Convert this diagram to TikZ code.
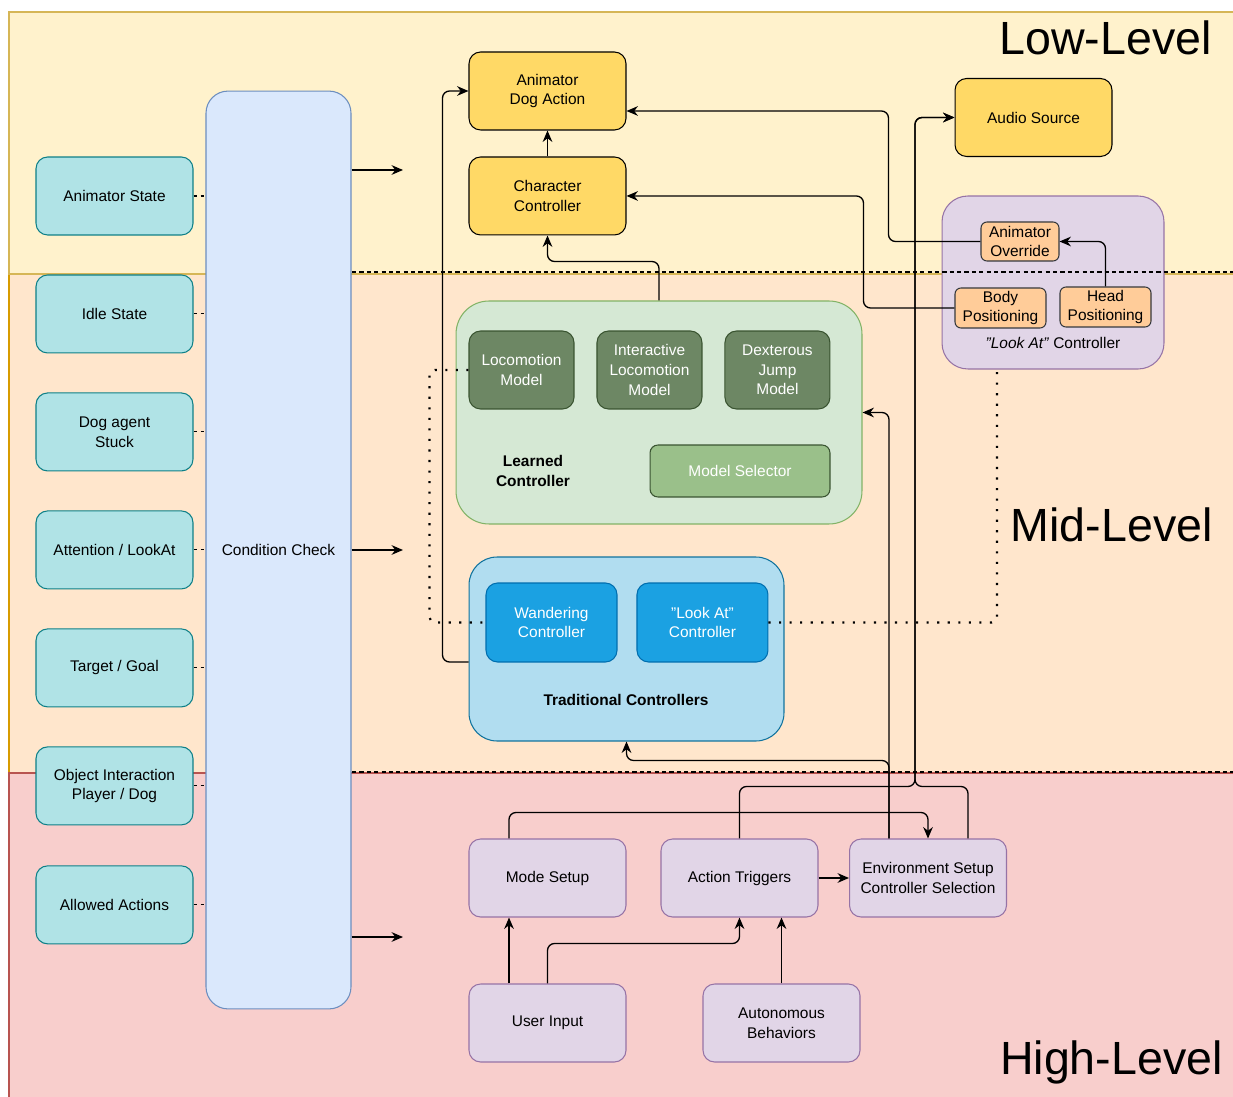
\documentclass[tikz,border=0pt]{standalone}
\usepackage{fontspec}
\setmainfont{Liberation Sans}
\usetikzlibrary{arrows.meta}
\definecolor{lowc}{HTML}{FFF2CC}
\definecolor{lowb}{HTML}{D6B656}
\definecolor{midc}{HTML}{FFE6CC}
\definecolor{midb}{HTML}{D79B00}
\definecolor{highc}{HTML}{F8CECC}
\definecolor{highb}{HTML}{B85450}
\definecolor{inc}{HTML}{B0E3E6}
\definecolor{inb}{HTML}{0E8088}
\definecolor{ccc}{HTML}{DAE8FC}
\definecolor{ccb}{HTML}{6C8EBF}
\definecolor{actc}{HTML}{FFD966}
\definecolor{lrc}{HTML}{D5E8D4}
\definecolor{lrb}{HTML}{82B366}
\definecolor{mdc}{HTML}{6D8764}
\definecolor{mdb}{HTML}{3A5431}
\definecolor{msc}{HTML}{9AC08A}
\definecolor{trc}{HTML}{B1DDF0}
\definecolor{trb}{HTML}{10739E}
\definecolor{wcc}{HTML}{1BA1E2}
\definecolor{wcb}{HTML}{006EAF}
\definecolor{pc}{HTML}{E1D5E7}
\definecolor{pb}{HTML}{9673A6}
\definecolor{orc}{HTML}{FFCC99}
\definecolor{orb}{HTML}{36393D}

\begin{document}
\begin{tikzpicture}[x=0.02cm, y=-0.02cm, node distance=2.36cm,
  font=\fontsize{8.8}{11.2}\selectfont, >={Stealth[length=6.5pt, width=5.5pt]},
  rbox/.style={rectangle, draw, line width=0.6pt, rounded corners=6.6pt, align=center, inner sep=1pt, minimum width=3.14cm, minimum height=1.56cm},
  inbox/.style={rbox, fill=inc, draw=inb},
  actbox/.style={rbox, fill=actc, draw=black},
  hlbox/.style={rbox, fill=pc, draw=pb},
  mdbox/.style={rbox, fill=mdc, draw=mdb, text=white, minimum width=2.1cm},
  wcbox/.style={rbox, fill=wcc, draw=wcb, text=white, minimum width=2.62cm, minimum height=1.58cm},
  orbox/.style={rbox, fill=orc, draw=orb, rounded corners=3.4pt, inner sep=0pt, minimum width=1.82cm, minimum height=0.8cm},
  group/.style={rectangle, draw, line width=0.6pt, inner sep=0pt},
  band/.style={line width=0.6pt},
  glabel/.style={align=center, font=\fontsize{8.8}{11.2}\selectfont\bfseries},
  lvtxt/.style={anchor=east, inner sep=0pt, font=\fontsize{26.5}{30}\selectfont},
  lvline/.style={line width=0.6pt, dash pattern=on 2.4pt off 1.8pt},
  cue/.style={line width=0.6pt, dash pattern=on 2pt off 2pt},
  link/.style={->, line width=0.75pt, rounded corners=4pt},
  dotlink/.style={line width=1.2pt, dash pattern=on 1.2pt off 4.8pt, rounded corners=3pt}]

  \useasboundingbox (0,0) rectangle (1233,1097);

  \path[band, fill=midc, draw=midb] (9,274) rectangle (1236,773);
  \path[band, fill=lowc, draw=lowb] (9,12) rectangle (1236,274);
  \path[band, fill=highc, draw=highb] (9,773) rectangle (1236,1104);

  \node[lvtxt] (lowl) at (1212,38) {Low-Level};
  \node[lvtxt] (midl) at (1213,525) {Mid-Level};
  \node[lvtxt] (highl) at (1223,1062) {High-Level};

  \node[rbox, fill=ccc, draw=ccb, rounded corners=12.5pt, minimum width=2.9cm, minimum height=18.36cm] (cond) at (278.5,550) {Condition Check};

  \node[inbox] (ast) at (114.5,196) {Animator State};
  \node[inbox, below of=ast] (idl) {Idle State};
  \node[inbox, below of=idl] (stk) {Dog agent\\Stuck};
  \node[inbox, below of=stk] (att) {Attention / LookAt};
  \node[inbox, below of=att] (tgt) {Target / Goal};
  \node[inbox, below of=tgt] (obj) {Object Interaction\\Player / Dog};
  \node[inbox, below of=obj, node distance=2.38cm] (alw) {Allowed Actions};

  \node[coordinate] (out1) at (403,170) {};
  \node[coordinate] (out2) at (403,550) {};
  \node[coordinate] (out3) at (403,937) {};

  \node[group, fill=lrc, draw=lrb, rounded corners=18.7pt, minimum width=8.12cm, minimum height=4.46cm] (lrn) at (659,412.5) {};
  \node[group, fill=trc, draw=trb, rounded corners=15.9pt, minimum width=6.3cm, minimum height=3.68cm] (trd) at (626.5,649) {};
  \node[group, fill=pc, draw=pb, rounded corners=14.7pt, minimum width=4.44cm, minimum height=3.46cm] (lag) at (1053,282.5) {};

  \draw[lvline] (352,272) -- (1236,272);
  \draw[lvline] (352,772) -- (1236,772);

  \node[actbox] (ada) at (547.5,91) {Animator\\Dog Action};
  \node[actbox, below of=ada, node distance=2.1cm] (chc) {Character\\Controller};
  \node[actbox] (aud) at (1033.5,117.5) {Audio Source};

  \node[mdbox] (lm) at (521.5,370) {Locomotion\\Model};
  \node[mdbox, right of=lm, node distance=2.56cm] (ilm) {Interactive\\Locomotion\\Model};
  \node[mdbox, right of=ilm, node distance=2.56cm] (djm) {Dexterous\\Jump\\Model};
  \node[rbox, fill=msc, draw=mdb, text=white, rounded corners=4.5pt, minimum width=3.6cm, minimum height=1.04cm] (msel) at (740,471) {Model Selector};
  \node[glabel] (lrnl) at (533,471) {Learned\\Controller};

  \node[wcbox] (wnd) at (551.5,622.5) {Wandering\\Controller};
  \node[wcbox, right of=wnd, node distance=3.02cm] (lac) {"Look At"\\Controller};
  \node[glabel] (trdl) at (626,700) {Traditional Controllers};

  \node[orbox, minimum width=1.56cm, minimum height=0.78cm] (aov) at (1020,241.5) {Animator\\Override};
  \node[orbox] (bps) at (1000.5,308) {Body\\Positioning};
  \node[orbox] (hps) at (1105.5,307) {Head\\Positioning};
  \node (lagl) at (1053,343) {\textit{"Look At"} Controller};

  \node[hlbox] (mst) at (547.5,878) {Mode Setup};
  \node[hlbox] (atr) at (739.5,878) {Action Triggers};
  \node[hlbox] (env) at (928,878) {Environment Setup\\Controller Selection};
  \node[hlbox] (uin) at (547.5,1023) {User Input};
  \node[hlbox] (aut) at (781.5,1023) {Autonomous\\Behaviors};

  \foreach \n in {ast,idl,stk,att,tgt,obj,alw}
    \draw[cue] (\n.east) -- (\n.east -| cond.west);

  \draw[link] (cond.east |- out1) -- (out1);
  \draw[link] (cond.east |- out2) -- (out2);
  \draw[link] (cond.east |- out3) -- (out3);

  \draw[link] (chc) -- (ada);
  \draw[link] (lrn.north) -- ++(0,-39) -| (chc.south);
  \draw[link] ([yshift=-0.26cm]trd.west) -- ++(-26,0) |- (ada.west);
  \draw[link] (aov.west) -- ++(-92,0) |- ([yshift=-0.4cm]ada.east);
  \draw[link] (bps.west) -- ++(-91,0) |- (chc.east);
  \draw[link] (hps.north) |- (aov.east);
  \draw[link] ([xshift=-0.78cm]env.north) |- (lrn.east);
  \draw[link] ([xshift=-0.78cm]env.north) -- ++(0,-78) -| (trd.south);
  \draw[link] (atr.north) -- ++(0,-52) -- ++(175.5,0) |- (aud.west);
  \draw[link] ([xshift=0.8cm]env.north) -- ++(0,-52) -- ++(-53,0) |- (aud.west);
  \draw[link] ([xshift=-0.77cm]mst.north) -- ++(0,-26) -| (env.north);
  \draw[link] (atr) -- (env);
  \draw[link] ([xshift=-0.77cm]uin.north) -- ([xshift=-0.77cm]mst.south);
  \draw[link] (uin.north) -- ++(0,-40) -| (atr.south);
  \draw[link] (aut.north) -- (aut.north |- atr.south);

  \draw[dotlink] (lm.west) -- ++(-39,0) |- (wnd.west);
  \draw[dotlink] (lac.east) -| ([xshift=-1.12cm]lag.south);

\end{tikzpicture}
\end{document}
